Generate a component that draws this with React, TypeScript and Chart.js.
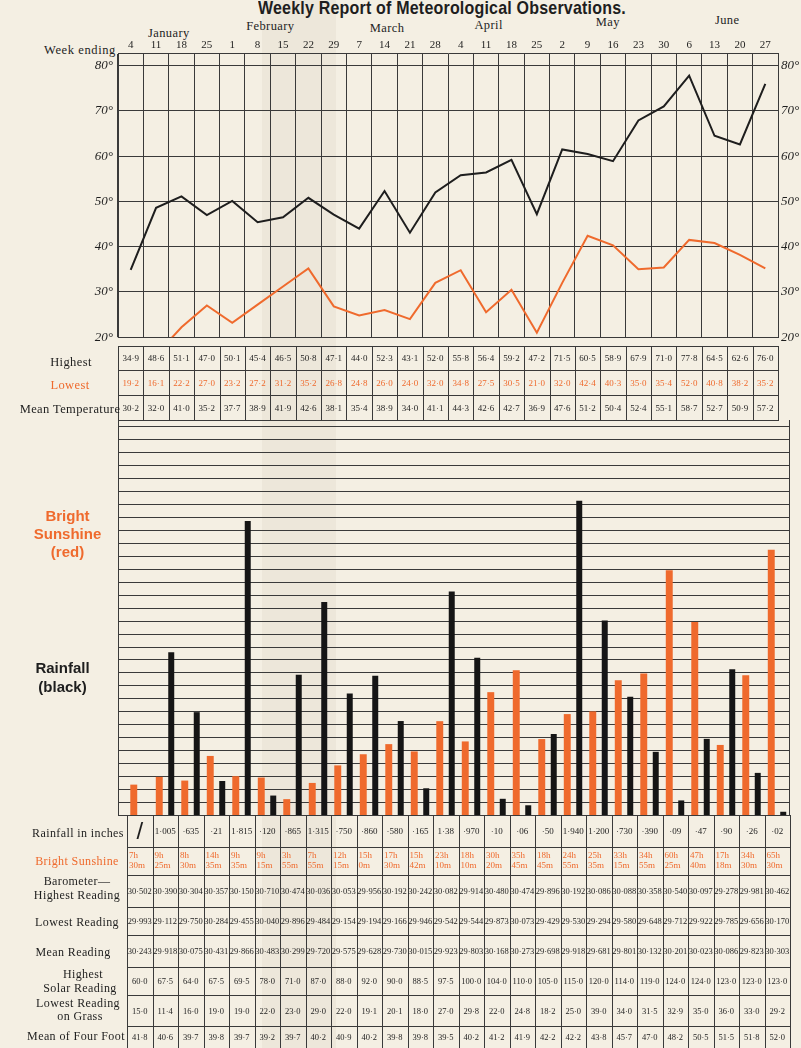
import React, { useEffect, useRef } from "react";
import { Chart, registerables } from "chart.js";

Chart.register(...registerables);

// ---------------- DATA ----------------
const weekEnding = ["4", "11", "18", "25", "1", "8", "15", "22", "29", "7", "14", "21", "28", "4", "11", "18", "25", "2", "9", "16", "23", "30", "6", "13", "20", "27"];
const monthNames = ["January", "February", "March", "April", "May", "June"];
const tempTicks = [20, 30, 40, 50, 60, 70, 80];

// temperatures as printed in the table
const highestPrinted = [34.9, 48.6, 51.1, 47.0, 50.1, 45.4, 46.5, 50.8, 47.1, 44.0, 52.3, 43.1, 52.0, 55.8, 56.4, 59.2, 47.2, 71.5, 60.5, 58.9, 67.9, 71.0, 77.8, 64.5, 62.6, 76.0];
const lowestPrinted = [19.2, 16.1, 22.2, 27.0, 23.2, 27.2, 31.2, 35.2, 26.8, 24.8, 26.0, 24.0, 32.0, 34.8, 27.5, 30.5, 21.0, 32.0, 42.4, 40.3, 35.0, 35.4, 52.0, 40.8, 38.2, 35.2];
const meanTemperature = [30.2, 32.0, 41.0, 35.2, 37.7, 38.9, 41.9, 42.6, 38.1, 35.4, 38.9, 34.0, 41.1, 44.3, 42.6, 42.7, 36.9, 47.6, 51.2, 50.4, 52.4, 55.1, 58.7, 52.7, 50.9, 57.2];

// temperatures as plotted on the curves
const highestPlotted = [34.9, 48.6, 51.1, 47.0, 50.1, 45.4, 46.5, 50.8, 47.1, 44.0, 52.3, 43.1, 52.0, 55.8, 56.4, 59.2, 47.2, 61.5, 60.5, 58.9, 67.9, 71.0, 77.8, 64.5, 62.6, 76.0];
const lowestPlotted = [19.2, 16.1, 22.2, 27.0, 23.2, 27.2, 31.2, 35.2, 26.8, 24.8, 26.0, 24.0, 32.0, 34.8, 25.5, 30.5, 21.0, 32.0, 42.4, 40.3, 35.0, 35.4, 41.5, 40.8, 38.2, 35.2];

const rainfallPrinted = ["/", "1·005", "·635", "·21", "1·815", "·120", "·865", "1·315", "·750", "·860", "·580", "·165", "1·38", "·970", "·10", "·06", "·50", "1·940", "1·200", "·730", "·390", "·09", "·47", "·90", "·26", "·02"];
const sunshineHours = [7, 9, 8, 14, 9, 9, 3, 7, 12, 15, 17, 15, 23, 18, 30, 35, 18, 24, 25, 33, 34, 60, 47, 17, 34, 65];
const sunshineMinutes = [30, 25, 30, 35, 35, 15, 55, 55, 15, 0, 30, 42, 10, 10, 20, 45, 45, 55, 35, 15, 55, 25, 40, 18, 30, 30];

const baroHighest = [30.502, 30.390, 30.304, 30.357, 30.150, 30.710, 30.474, 30.036, 30.053, 29.956, 30.192, 30.242, 30.082, 29.914, 30.480, 30.474, 29.896, 30.192, 30.086, 30.088, 30.358, 30.540, 30.097, 29.278, 29.981, 30.462];
const baroLowest = [29.993, 29.112, 29.750, 30.284, 29.455, 30.040, 29.896, 29.484, 29.154, 29.194, 29.166, 29.946, 29.542, 29.544, 29.873, 30.073, 29.429, 29.530, 29.294, 29.580, 29.648, 29.712, 29.922, 29.785, 29.656, 30.170];
const baroMean = [30.243, 29.918, 30.075, 30.431, 29.866, 30.483, 30.299, 29.720, 29.575, 29.628, 29.730, 30.015, 29.923, 29.803, 30.168, 30.273, 29.698, 29.918, 29.681, 29.801, 30.132, 30.201, 30.023, 30.086, 29.823, 30.303];
const solarHighest = [60.0, 67.5, 64.0, 67.5, 69.5, 78.0, 71.0, 87.0, 88.0, 92.0, 90.0, 88.5, 97.5, 100.0, 104.0, 110.0, 105.0, 115.0, 120.0, 114.0, 119.0, 124.0, 124.0, 123.0, 123.0, 123.0];
const grassLowest = [15.0, 11.4, 16.0, 19.0, 19.0, 22.0, 23.0, 29.0, 22.0, 19.1, 20.1, 18.0, 27.0, 29.8, 22.0, 24.8, 18.2, 25.0, 39.0, 34.0, 31.5, 32.9, 35.0, 36.0, 33.0, 29.2];
const fourFootMean = [41.8, 40.6, 39.7, 39.8, 39.7, 39.2, 39.7, 40.2, 40.9, 40.2, 39.8, 39.8, 39.5, 40.2, 41.2, 41.9, 42.2, 42.2, 43.8, 45.7, 47.0, 48.2, 50.5, 51.5, 51.8, 52.0];

// ---------------- STYLE / LAYOUT ----------------
const BG = "#f4efe3";
const ORANGE = "#ef6a2d";
const INK = "#1e1e1e";
const GRID = "#3a3a3a";
const SERIF = '"Liberation Serif", "DejaVu Serif", serif';
const SANS = '"Liberation Sans", Arial, sans-serif';

const N = weekEnding.length;
const TOP_LEFT = 118;
const TOP_RIGHT = 778;
const TOP_COL = (TOP_RIGHT - TOP_LEFT) / N;
const BOT_LEFT = 127;
const BOT_RIGHT = 790;
const BOT_COL = (BOT_RIGHT - BOT_LEFT) / N;
const monthAnchors = [2.0, 6.0, 10.6, 14.6, 19.3, 24.0];
const monthY = [33, 26, 28, 25, 22, 20];

const RAIN_PX_PER_INCH = 162;
const BAR_TOP = 420;
const BAR_BOTTOM = 815;
const RAIN_MAX = (BAR_BOTTOM - BAR_TOP) / RAIN_PX_PER_INCH;
const SUN_HOURS_PER_INCH = 40;
const RAIN_GRID_STEP = 0.08;

const fmt1 = (v: number) => v.toFixed(1).replace(".", "·");
const fmt3 = (v: number) => v.toFixed(3).replace(".", "·");
const rainValue = (s: string) => (s === "/" ? null : parseFloat(s.replace("·", ".")));

function TableGrid({ left, colW, rows }: { left: number; colW: number; rows: number[] }) {
  const els: any[] = [];
  const width = colW * N;
  rows.forEach((y, i) => {
    els.push(<div key={"h" + i} style={{ position: "absolute", left, top: y, width: width + 1, height: 1, background: GRID }} />);
  });
  for (let i = 0; i <= N; i++) {
    els.push(
      <div key={"v" + i} style={{ position: "absolute", left: Math.round(left + i * colW), top: rows[0], width: 1, height: rows[rows.length - 1] - rows[0], background: GRID }} />
    );
  }
  return <>{els}</>;
}

function ValueRow({ values, left, colW, top, height, color = INK, size = 9 }: { values: string[]; left: number; colW: number; top: number; height: number; color?: string; size?: number }) {
  return (
    <>
      {values.map((v, i) => (
        <div
          key={i}
          style={{
            position: "absolute",
            left: left + i * colW,
            top,
            width: colW,
            height,
            display: "flex",
            alignItems: "center",
            justifyContent: "center",
            fontFamily: SERIF,
            fontSize: size,
            color,
            whiteSpace: "nowrap",
          }}
        >
          {v}
        </div>
      ))}
    </>
  );
}

function Label({ text, cx, cy, color = INK, size = 12, style = {} }: { text: string; cx: number; cy: number; color?: string; size?: number; style?: any }) {
  return (
    <div
      style={{
        position: "absolute",
        left: cx - 80,
        width: 160,
        top: cy,
        transform: "translateY(-50%)",
        textAlign: "center",
        fontFamily: SERIF,
        fontSize: size,
        color,
        whiteSpace: "nowrap",
        letterSpacing: 0.4,
        ...style,
      }}
    >
      {text}
    </div>
  );
}

export default function App() {
  const lineRef = useRef<HTMLCanvasElement>(null);
  const barRef = useRef<HTMLCanvasElement>(null);

  useEffect(() => {
    const tickSetter = (s: any) => {
      s.ticks = tempTicks.map((v) => ({ value: v }));
    };
    const lineChart = new Chart(lineRef.current as HTMLCanvasElement, {
      type: "line",
      data: {
        labels: weekEnding,
        datasets: [
          { label: "Highest", data: highestPlotted, borderColor: INK, borderWidth: 2, pointRadius: 0, tension: 0, yAxisID: "yL" },
          { label: "Lowest", data: lowestPlotted, borderColor: ORANGE, borderWidth: 2, pointRadius: 0, tension: 0, yAxisID: "yL" },
        ],
      },
      options: {
        responsive: false,
        animation: false,
        devicePixelRatio: 1,
        layout: { padding: { left: 0, right: 0, top: 0, bottom: 4 } },
        plugins: { legend: { display: false }, tooltip: { enabled: false } },
        scales: {
          x: {
            position: "top",
            offset: true,
            grid: { offset: true, color: GRID, lineWidth: 1, drawTicks: false },
            border: { color: GRID },
            ticks: { font: { family: SERIF, size: 11 }, color: INK, padding: 1, maxRotation: 0, autoSkip: false },
            afterFit: (s: any) => {
              s.height = 53;
            },
          },
          yL: {
            position: "left",
            min: 20,
            max: 82.8,
            afterBuildTicks: tickSetter,
            grid: { color: GRID, drawTicks: false },
            border: { color: GRID },
            ticks: { callback: (v: any) => v + "°", font: { family: SERIF, size: 13, style: "italic" }, color: INK, padding: 5 },
            afterFit: (s: any) => {
              s.width = TOP_LEFT;
            },
          },
          yR: {
            position: "right",
            min: 20,
            max: 82.8,
            afterBuildTicks: tickSetter,
            grid: { display: false, drawTicks: false },
            border: { color: GRID },
            ticks: { callback: (v: any) => v + "°", font: { family: SERIF, size: 13, style: "italic" }, color: INK, padding: 3 },
            afterFit: (s: any) => {
              s.width = 801 - TOP_RIGHT;
            },
          },
        },
      } as any,
    });

    const gridPlugin = {
      id: "barGrid",
      beforeDatasetsDraw(chart: any) {
        const { ctx } = chart;
        const s = chart.scales.yRain;
        ctx.save();
        ctx.strokeStyle = GRID;
        ctx.lineWidth = 1;
        ctx.beginPath();
        for (let v = 0; v <= s.max + 1e-9; v += RAIN_GRID_STEP) {
          const y = Math.round(s.getPixelForValue(v)) + 0.5;
          ctx.moveTo(0, y);
          ctx.lineTo(chart.width, y);
        }
        ctx.moveTo(0.5, 0);
        ctx.lineTo(0.5, chart.height);
        ctx.moveTo(chart.width - 0.5, 0);
        ctx.lineTo(chart.width - 0.5, chart.height);
        ctx.stroke();
        ctx.restore();
      },
    };

    const barChart = new Chart(barRef.current as HTMLCanvasElement, {
      type: "bar",
      data: {
        labels: weekEnding,
        datasets: [
          {
            label: "Bright Sunshine",
            data: sunshineHours.map((h, i) => h + sunshineMinutes[i] / 60),
            backgroundColor: ORANGE,
            yAxisID: "ySun",
            categoryPercentage: 0.94,
            barPercentage: 0.58,
          },
          {
            label: "Rainfall",
            data: rainfallPrinted.map(rainValue),
            backgroundColor: "#151515",
            yAxisID: "yRain",
            categoryPercentage: 0.94,
            barPercentage: 0.5,
          },
        ],
      },
      options: {
        responsive: false,
        animation: false,
        devicePixelRatio: 1,
        layout: { padding: { left: BOT_LEFT - TOP_LEFT, right: 0, top: 0, bottom: 1 } },
        plugins: { legend: { display: false }, tooltip: { enabled: false } },
        scales: {
          x: { display: false, offset: true },
          yRain: { display: false, min: 0, max: RAIN_MAX },
          ySun: { display: false, min: 0, max: RAIN_MAX * SUN_HOURS_PER_INCH },
        },
      } as any,
      plugins: [gridPlugin],
    });

    return () => {
      lineChart.destroy();
      barChart.destroy();
    };
  }, []);

  const topRows = [346, 370, 395, BAR_TOP];
  const botRows = [BAR_BOTTOM, 847, 875, 907, 935, 967, 995, 1026, 1060];

  return (
    <div style={{ position: "absolute", left: 0, top: 0, width: 801, height: 1048, background: BG, overflow: "hidden" }}>
      {/* paper fold shading */}
      <div style={{ position: "absolute", left: 262, top: 0, width: 74, height: 1048, background: "rgba(110,90,60,0.05)" }} />

      {/* title */}
      <div style={{ position: "absolute", left: 258, top: -3, fontFamily: SANS, fontWeight: "bold", fontSize: 16, letterSpacing: 0.2, color: INK, whiteSpace: "nowrap", transform: "scaleY(1.2)", transformOrigin: "top left" }}>
        Weekly Report of Meteorological Observations.
      </div>

      {monthNames.map((m, i) => (
        <Label key={m} text={m} cx={TOP_LEFT + monthAnchors[i] * TOP_COL} cy={monthY[i]} size={12.5} />
      ))}
      <Label text="Week ending" cx={80} cy={50} size={12.5} style={{ letterSpacing: 0.6 }} />

      <canvas ref={lineRef} width={801} height={350} style={{ position: "absolute", left: 0, top: 0 }} />

      {/* temperature table */}
      <TableGrid left={TOP_LEFT} colW={TOP_COL} rows={topRows} />
      <ValueRow values={highestPrinted.map(fmt1)} left={TOP_LEFT} colW={TOP_COL} top={346} height={24} />
      <ValueRow values={lowestPrinted.map(fmt1)} left={TOP_LEFT} colW={TOP_COL} top={370} height={25} color={ORANGE} />
      <ValueRow values={meanTemperature.map(fmt1)} left={TOP_LEFT} colW={TOP_COL} top={395} height={25} />
      <Label text="Highest" cx={71} cy={362} size={12.5} />
      <Label text="Lowest" cx={70} cy={385} size={12.5} color={ORANGE} />
      <Label text="Mean Temperature" cx={70} cy={409} size={12.5} />

      {/* bar chart */}
      <canvas ref={barRef} width={BOT_RIGHT - TOP_LEFT} height={BAR_BOTTOM - BAR_TOP + 1} style={{ position: "absolute", left: TOP_LEFT, top: BAR_TOP }} />
      <div style={{ position: "absolute", left: 10, width: 115, top: 507, textAlign: "center", fontFamily: SANS, fontWeight: "bold", fontSize: 15, lineHeight: "18px", color: ORANGE }}>
        Bright
        <br />
        Sunshine
        <br />
        (red)
      </div>
      <div style={{ position: "absolute", left: 5, width: 115, top: 658, textAlign: "center", fontFamily: SANS, fontWeight: "bold", fontSize: 15, lineHeight: "19px", color: INK }}>
        Rainfall
        <br />
        (black)
      </div>

      {/* lower table */}
      <TableGrid left={BOT_LEFT} colW={BOT_COL} rows={botRows} />
      <ValueRow values={rainfallPrinted.map((s) => (s === "/" ? "" : s))} left={BOT_LEFT} colW={BOT_COL} top={815} height={32} />
      <div style={{ position: "absolute", left: BOT_LEFT + 4, top: 815, width: BOT_COL - 8, height: 32, display: "flex", alignItems: "center", justifyContent: "center", fontFamily: SANS, fontSize: 24, color: INK }}>/</div>
      {sunshineHours.map((h, i) => (
        <div key={"s" + i} style={{ position: "absolute", left: BOT_LEFT + i * BOT_COL + 2, top: 850, width: BOT_COL - 2, fontFamily: SERIF, fontSize: 9, lineHeight: "10px", color: ORANGE, whiteSpace: "nowrap" }}>
          {h}h
          <br />
          {sunshineMinutes[i]}m
        </div>
      ))}
      <ValueRow values={baroHighest.map(fmt3)} left={BOT_LEFT} colW={BOT_COL} top={875} height={32} size={8.5} />
      <ValueRow values={baroLowest.map(fmt3)} left={BOT_LEFT} colW={BOT_COL} top={907} height={28} size={8.5} />
      <ValueRow values={baroMean.map(fmt3)} left={BOT_LEFT} colW={BOT_COL} top={935} height={32} size={8.5} />
      <ValueRow values={solarHighest.map(fmt1)} left={BOT_LEFT} colW={BOT_COL} top={967} height={28} size={8.5} />
      <ValueRow values={grassLowest.map(fmt1)} left={BOT_LEFT} colW={BOT_COL} top={995} height={31} size={8.5} />
      <ValueRow values={fourFootMean.map(fmt1)} left={BOT_LEFT} colW={BOT_COL} top={1026} height={22} size={8.5} />

      <Label text="Rainfall in inches" cx={78} cy={833} size={12} />
      <Label text="Bright Sunshine" cx={77} cy={861} size={12} color={ORANGE} />
      <Label text="Barometer—" cx={77} cy={881} size={12} />
      <Label text="Highest Reading" cx={77} cy={895} size={12} />
      <Label text="Lowest Reading" cx={77} cy={922} size={12} />
      <Label text="Mean Reading" cx={73} cy={952} size={12} />
      <Label text="Highest" cx={83} cy={974} size={12} />
      <Label text="Solar Reading" cx={80} cy={988} size={12} />
      <Label text="Lowest Reading" cx={78} cy={1003} size={12} />
      <Label text="on Grass" cx={80} cy={1016} size={12} />
      <Label text="Mean of Four Foot" cx={76} cy={1036} size={12} />
    </div>
  );
}
